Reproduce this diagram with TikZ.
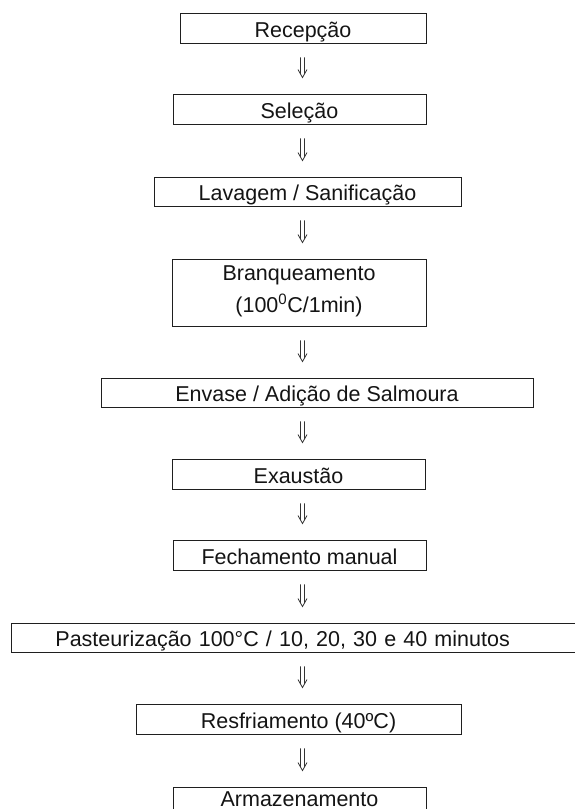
\documentclass[tikz,border=0pt]{standalone}
\usepackage{fontspec}
\setmainfont{Liberation Sans}
\usetikzlibrary{calc}
\begin{document}
\begin{tikzpicture}[x=1pt,y=-1pt,
  box/.style={draw=black!88, line width=0.9pt, inner sep=0pt, minimum height=30pt,
    text height=20pt, text depth=2pt, font=\fontsize{21.5}{32}\selectfont, text=black!92},
  darr/.style={draw=black!80, line width=0.8pt, line join=miter,
    to path={
      ($(\tikztostart)+(-2,14)$) -- ($(\tikztotarget)+(-2,-19.6)$)
      ($(\tikztostart)+(2,14)$) -- ($(\tikztotarget)+(2,-19.6)$)
      ($(\tikztotarget)+(-4.5,-24)$) -- ($(\tikztotarget)+(0,-16)$) -- ($(\tikztotarget)+(4.5,-24)$)
    }}]
\useasboundingbox (0,0) rectangle (575,809);
\begin{scope}
\clip (0,0) rectangle (575,809);
\node[box, minimum width=246pt] (n1) at (303,28) {Recepção};
\node[box, minimum width=253pt] (n2) at (299.5,109) {Seleção};
\node[box, minimum width=307pt, minimum height=29pt] (n3) at (307.5,191.5) {Lavagem / Sanificação};
\node[box, minimum width=254pt, minimum height=67pt, align=center, text height=47pt, text depth=8pt] (n4) at (299,292.5) {Branqueamento\\(100\textsuperscript{0}C/1min)};
\node[box, minimum width=432pt, minimum height=29pt] (n5) at (317,392.5) {Envase / Adição de Salmoura};
\node[box, minimum width=253pt] (n6) at (298.5,474) {Exaustão};
\node[box, minimum width=253pt] (n7) at (299.5,555) {Fechamento manual};
\node[box, minimum height=29pt, anchor=west, text width=501pt, align=left, inner xsep=44pt] (n8) at (11,637.5) {Pasteurização 100°C / 10, 20, 30 e 40 minutos};
\node[box, minimum width=325pt] (n9) at (298.5,719) {Resfriamento (40ºC)};
\node[box, minimum width=253pt, text height=14pt, text depth=6pt] (n10) at (299.5,802) {Armazenamento};
\end{scope}
\coordinate (ax) at (302.5,0);
\foreach \a/\b in {n1/n2, n2/n3, n3/n4, n4/n5, n5/n6, n6/n7, n7/n8, n8/n9, n9/n10}
  \draw[darr] (\a.south -| ax) to (\b.north -| ax);
\end{tikzpicture}
\end{document}
